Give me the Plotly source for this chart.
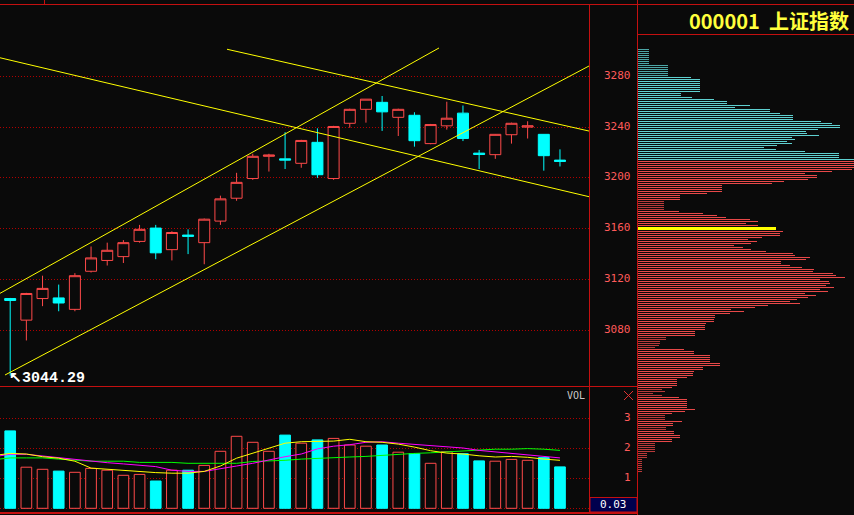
import plotly.graph_objects as go

W, H = 854, 515

# ---------------- data ----------------
candle_idx = list(range(35))
opens = [3105, 3088, 3105, 3105.5, 3096.5, 3126.5, 3135, 3138, 3150, 3160.5,
         3143.5, 3155, 3149, 3166, 3184, 3199.5, 3217, 3215, 3211.5, 3228,
         3199.5, 3243, 3254, 3259.5, 3247.7, 3249.3, 3227, 3241, 3251, 3219.5,
         3218.3, 3234, 3240, 3234.3, 3214]
highs = [3105.5, 3109.5, 3123, 3116, 3125, 3146, 3149, 3151, 3163, 3163,
         3158, 3159.5, 3168, 3186, 3204, 3219, 3219, 3236, 3230, 3239,
         3241, 3254.5, 3262, 3264.5, 3254.5, 3251.7, 3242.5, 3260, 3257, 3222,
         3234.5, 3243.5, 3244.6, 3234.5, 3222.5]
lows = [3044.29, 3072, 3099, 3095, 3095, 3125.5, 3131, 3133, 3149, 3136,
        3135, 3140, 3132, 3163, 3182, 3198.5, 3205, 3207, 3208, 3200,
        3198.5, 3239.5, 3243.5, 3237, 3233, 3224.6, 3226.5, 3238, 3229, 3207,
        3215, 3227, 3231, 3205.7, 3209]
closes = [3103.5, 3109, 3113, 3101.5, 3123, 3137, 3143, 3149, 3159.5, 3141,
          3157, 3154, 3167.5, 3183.5, 3196.5, 3217, 3218, 3214, 3229.5, 3202.5,
          3240.5, 3254, 3262, 3252, 3254, 3229.3, 3242, 3247, 3231, 3218.5,
          3234.3, 3243, 3241, 3217.5, 3213]
volumes = [2.58, 1.37, 1.30, 1.24, 1.20, 1.33, 1.27, 1.10, 1.13, 0.91,
           1.27, 1.27, 1.43, 1.90, 2.40, 2.20, 1.90, 2.44, 2.17, 2.28,
           2.33, 2.11, 2.07, 2.11, 1.87, 1.82, 1.50, 1.89, 1.82, 1.58,
           1.57, 1.63, 1.60, 1.69, 1.38]

ma_idx = list(range(-1, 35))
ma5 = [1.76, 1.83, 1.81, 1.72, 1.67, 1.57, 1.34, 1.30, 1.25, 1.22, 1.19,
       1.17, 1.17, 1.23, 1.41, 1.67, 1.83, 2.00, 2.17, 2.22, 2.24,
       2.24, 2.30, 2.22, 2.20, 2.14, 2.04, 1.92, 1.84, 1.81, 1.75,
       1.71, 1.73, 1.70, 1.64, 1.60]
ma10 = [1.72, 1.80, 1.80, 1.74, 1.70, 1.63, 1.58, 1.52, 1.48, 1.43, 1.39,
        1.27, 1.23, 1.23, 1.31, 1.41, 1.50, 1.62, 1.72, 1.81, 1.98,
        2.07, 2.12, 2.20, 2.22, 2.17, 2.13, 2.09, 2.04, 2.01, 1.93,
        1.88, 1.82, 1.77, 1.73, 1.68]
ma20 = [1.62, 1.68, 1.68, 1.68, 1.64, 1.61, 1.57, 1.57, 1.57, 1.53, 1.53,
        1.53, 1.50, 1.50, 1.50, 1.50, 1.56, 1.57, 1.60, 1.64, 1.67,
        1.68, 1.71, 1.73, 1.77, 1.80, 1.83, 1.85, 1.88, 1.91, 1.94,
        1.97, 1.97, 1.99, 1.97, 1.93]

# hand-drawn trend lines: (index0, price0, index1, price1)
trend_lines = [
    (-0.631, 3294.6, 35.795, 3185.2),
    (13.408, 3301.3, 35.795, 3236.9),
    (-0.631, 3109.1, 26.518, 3302.3),
    (-0.322, 3044.8, 35.795, 3288.1),
]

price_ticks = [3080, 3120, 3160, 3200, 3240, 3280]
vol_ticks = [1, 2, 3]
vol_grid = [0, 1, 2, 3]

# chip (cost) distribution, top price level downward
chip_top_price = 3301.1
chip_step = 1.5748
chip_lengths = (
    [12] * 8 + [31] * 6 + [54] + [63] * 7 + [44] * 2 + [55, 77, 90, 90, 113, 98, 133, 133, 143]
    + [156] * 3 + [184, 195, 203, 203, 181, 169, 170, 182, 155, 158, 150, 155, 140, 127, 139, 168]
    + [202] * 3 + [217] * 5 + [215, 195, 168, 180, 180, 171, 147, 135] + [85] * 4 + [70]
    + [43] * 3 + [27] * 5 + [42, 66, 80, 89, 113, 121, 109, 121, 138, 138, 146, 143, 143, 125, 111,
    120, 114, 97, 106, 114, 129, 156, 158, 173, 169, 144, 144, 153, 165, 177, 176, 196, 199, 208,
    183, 192, 193, 189, 197, 183, 191, 168, 179, 171, 160, 153, 163, 131, 118, 94, 107, 93,
    78, 78, 77, 77, 69, 68, 68, 68, 58, 58, 58, 29, 29, 23, 23, 22, 18, 47, 57, 57,
    73, 73, 73, 73, 83, 83, 66, 66, 57, 56, 56, 50, 40, 40, 40, 40, 35, 25, 28, 16, 25, 42,
    50, 50, 50, 50, 50, 58, 48, 35, 28, 28, 28, 45, 36, 36, 29, 29, 37, 37, 43, 43, 35, 35]
    + [18] * 5 + [10] * 3 + [5] * 7
)
avg_cost = 3160.16
avg_cost_len = 139

title_text = "000001  上证指数"
low_label = "3044.29"
vol_value = "0.03"

# ---------------- style ----------------
BG = "#0a0a0a"
RED = "#ff4a4a"
CYAN = "#00ffff"
FRAME = "#c41010"
GRID = "#b00000"
CHIP_CYAN = "#5ed0d0"
CHIP_RED = "#e84848"
LABEL = "#ff5a5a"
YELLOW = "#ffff00"


def px(x):
    return x / W


def py(y):
    return 1 - y / H


PX_PER_PT = 1.27
Y3280 = 76.3
MAIN_TOP, MAIN_BOT = 4.0, 386.0
VOL_TOP, VOL_BOT = 386.0, 513.0
VOL0, VOL_PX = 508.3, 30.0
CHIP_TOP = 35.0


def price_at(ypx):
    return 3280 - (ypx - Y3280) / PX_PER_PT


X0_PX, STEP_PX = 10.2, 16.17
MAIN_RIGHT = 589.0
xrange_main = [(0 - X0_PX) / STEP_PX, (MAIN_RIGHT - X0_PX) / STEP_PX]

fig = go.Figure()

# candles
fig.add_trace(go.Candlestick(
    x=candle_idx, open=opens, high=highs, low=lows, close=closes,
    increasing=dict(line=dict(color=RED, width=1), fillcolor=BG),
    decreasing=dict(line=dict(color=CYAN, width=1), fillcolor=CYAN),
    whiskerwidth=0, xaxis="x", yaxis="y", hoverinfo="skip", showlegend=False,
))

for (a0, p0, a1, p1) in trend_lines:
    fig.add_trace(go.Scatter(x=[a0, a1], y=[p0, p1], mode="lines",
                             line=dict(color=YELLOW, width=1),
                             xaxis="x", yaxis="y", hoverinfo="skip", showlegend=False))

# volume
up = [c >= o for o, c in zip(opens, closes)]
fig.add_trace(go.Bar(
    x=candle_idx, y=volumes, width=0.66,
    marker=dict(color=[BG if u else CYAN for u in up],
                line=dict(color=[RED if u else CYAN for u in up], width=1)),
    xaxis="x2", yaxis="y2", hoverinfo="skip", showlegend=False,
))
for series, col in [(ma20, "#00ff00"), (ma10, "#ff00ff"), (ma5, "#ffff00")]:
    fig.add_trace(go.Scatter(x=ma_idx, y=series, mode="lines",
                             line=dict(color=col, width=1),
                             xaxis="x2", yaxis="y2", hoverinfo="skip", showlegend=False))

# chip distribution: one 1px horizontal bar per price level
chip_prices = [chip_top_price - chip_step * k for k in range(len(chip_lengths))]
last_close = closes[-1]
chip_colors = [CHIP_CYAN if p > last_close else CHIP_RED for p in chip_prices]
fig.add_trace(go.Bar(
    y=chip_prices, x=chip_lengths, orientation="h", width=0.62,
    marker=dict(color=chip_colors, line=dict(width=0)),
    xaxis="x3", yaxis="y3", hoverinfo="skip", showlegend=False,
))
fig.add_trace(go.Scatter(x=[0, avg_cost_len], y=[avg_cost, avg_cost], mode="lines",
                         line=dict(color=YELLOW, width=3), xaxis="x3", yaxis="y3",
                         hoverinfo="skip", showlegend=False))

axis_common = dict(showline=False, zeroline=False, showticklabels=False, ticks="",
                   fixedrange=True)

fig.update_layout(
    width=W, height=H, margin=dict(l=0, r=0, t=0, b=0, pad=0),
    paper_bgcolor=BG, plot_bgcolor=BG, showlegend=False, hovermode=False,
    boxgap=0.32, boxgroupgap=0, barmode="overlay",
    xaxis=dict(domain=[0, px(MAIN_RIGHT)], range=xrange_main, showgrid=False,
               rangeslider=dict(visible=False), anchor="y", **axis_common),
    yaxis=dict(domain=[py(MAIN_BOT), py(MAIN_TOP)],
               range=[price_at(MAIN_BOT), price_at(MAIN_TOP)],
               tickvals=price_ticks, showgrid=True, gridcolor=GRID, gridwidth=1,
               griddash="1px,2px", anchor="x", **axis_common),
    xaxis2=dict(domain=[0, px(MAIN_RIGHT)], range=xrange_main, showgrid=False,
                anchor="y2", **axis_common),
    yaxis2=dict(domain=[py(VOL_BOT), py(VOL_TOP)],
                range=[(VOL0 - VOL_BOT) / VOL_PX, (VOL0 - VOL_TOP) / VOL_PX],
                tickvals=vol_grid, showgrid=True, gridcolor=GRID, gridwidth=1,
                griddash="1px,2px", anchor="x2", **axis_common),
    xaxis3=dict(domain=[px(637), 1], range=[0, 217], showgrid=False, anchor="y3",
                **axis_common),
    yaxis3=dict(domain=[0, py(CHIP_TOP)], range=[price_at(H), price_at(CHIP_TOP)],
                showgrid=False, anchor="x3", **axis_common),
)

shapes = []


def hline(y, x0, x1, w=1):
    shapes.append(dict(type="line", xref="paper", yref="paper", x0=px(x0), x1=px(x1),
                       y0=py(y), y1=py(y), line=dict(color=FRAME, width=w), layer="above"))


def vline(x, y0, y1, w=1):
    shapes.append(dict(type="line", xref="paper", yref="paper", x0=px(x), x1=px(x),
                       y0=py(y0), y1=py(y1), line=dict(color=FRAME, width=w), layer="above"))


hline(4.5, 0, W)
hline(386.5, 0, 637.5)
hline(513, 0, 637.5, 2)
hline(34.5, 637.5, W)
vline(589.5, 4, 513)
vline(637.5, 0, H)
vline(44.5, 0, 4)
# value box
shapes.append(dict(type="rect", xref="paper", yref="paper", x0=px(590), x1=px(637),
                   y0=py(512), y1=py(497.5), fillcolor="#00004e",
                   line=dict(color=FRAME, width=1), layer="above"))
# close "x"
for (a, b, c, d) in [(624, 391, 633, 400), (624, 400, 633, 391)]:
    shapes.append(dict(type="line", xref="paper", yref="paper", x0=px(a), x1=px(c),
                       y0=py(b), y1=py(d), line=dict(color="#e03030", width=1), layer="above"))
fig.update_layout(shapes=shapes)

ann = []
MONO = "DejaVu Sans Mono"
for v in price_ticks:
    ann.append(dict(xref="paper", yref="y", x=px(633), y=v, text=str(v), showarrow=False,
                    xanchor="right", yanchor="middle", yshift=1,
                    font=dict(family=MONO, size=11, color=LABEL)))
for v in vol_ticks:
    ann.append(dict(xref="paper", yref="y2", x=px(633), y=v, text=str(v), showarrow=False,
                    xanchor="right", yanchor="middle", yshift=1,
                    font=dict(family=MONO, size=11, color=LABEL)))
ann.append(dict(xref="paper", yref="paper", x=px(587), y=py(395), text="VOL",
                showarrow=False, xanchor="right", yanchor="middle",
                font=dict(family=MONO, size=10, color="#c8c8c8")))
ann.append(dict(xref="paper", yref="paper", x=px(613.5), y=py(504.5), text=vol_value,
                showarrow=False, xanchor="center", yanchor="middle",
                font=dict(family=MONO, size=11, color="#ffffff")))
ann.append(dict(xref="paper", yref="paper", x=px(851), y=py(20.5), text=title_text,
                showarrow=False, xanchor="right", yanchor="middle",
                font=dict(family="Noto Sans CJK SC", size=20, color="#ffff3c", weight="bold")))
ann.append(dict(xref="x", yref="y", x=candle_idx[0], y=min(lows), text="↖" + low_label,
                showarrow=False, xanchor="left", yanchor="middle", xshift=-3, yshift=-3,
                font=dict(family="Liberation Mono", size=15, color="#ffffff", weight="bold")))
fig.update_layout(annotations=ann)

fig.write_html(
    "out.html",
    config={"displayModeBar": False, "staticPlot": True},
    post_script="document.body.style.margin='0';document.body.style.overflow='hidden';",
)
